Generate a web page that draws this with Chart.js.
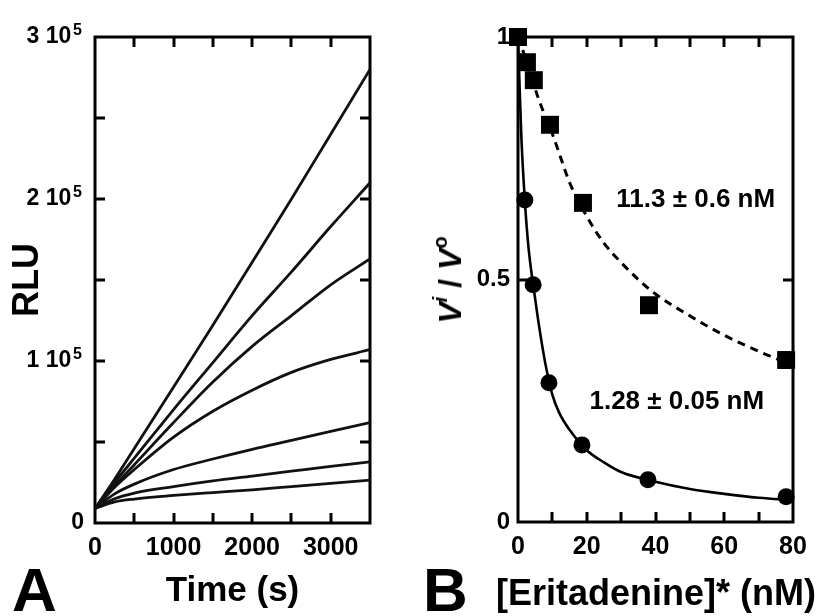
<!DOCTYPE html>
<html><head><meta charset="utf-8">
<script src="https://cdn.jsdelivr.net/npm/chart.js@4/dist/chart.umd.min.js"></script>
<style>
html,body{margin:0;padding:0;background:#fff;}
#wrap{position:relative;width:820px;height:616px;overflow:hidden;font-family:"Liberation Sans",Arial,sans-serif;font-weight:bold;color:#000;}
canvas{position:absolute;top:0;}
#ca{left:0;}
#cb{left:410px;}
.panel{position:absolute;font-size:62px;line-height:62px;top:559px;}
#xtB{position:absolute;left:656px;top:575px;transform:translateX(-50%);font-size:36px;line-height:36px;white-space:nowrap;}
#ytB{position:absolute;left:450px;top:280px;transform:translate(-50%,-50%) rotate(-90deg);font-size:32px;white-space:nowrap;line-height:1;}
#ytB i{font-style:italic;}
#ytB sup{font-size:20px;vertical-align:0;position:relative;top:-14px;}
</style></head>
<body>
<div id="wrap">
<canvas id="ca" width="410" height="616"></canvas>
<canvas id="cb" width="410" height="616"></canvas>
<div class="panel" style="left:12px;">A</div>
<div class="panel" style="left:423px;">B</div>
<div id="xtB">[Eritadenine]* (nM)</div>
<div id="ytB"><i>V</i><sup><i>i</i></sup> / <i>V</i><sup>o</sup></div>
</div>
<script>
// ---------- Panel A data: luminescence time courses ----------
const timeS = [0, 250, 500, 1000, 1500, 2000, 2500, 3000, 3500];
const trace1 = [9000, 27000, 46000, 84000, 122000, 161000, 200000, 240000, 280000];
const trace2 = [9000, 25000, 40000, 70000, 99000, 128000, 155000, 183000, 210000];
const trace3 = [9000, 23000, 36000, 62000, 87000, 109000, 128000, 147000, 163000];
const trace4 = [9000, 22000, 33000, 53000, 69000, 82000, 93000, 101000, 107000];
const trace5 = [9000, 18000, 24000, 33000, 39500, 45500, 51000, 56500, 62000];
const trace6 = [9000, 15000, 18500, 22500, 26000, 29000, 32000, 35000, 37700];
const trace7 = [9000, 13000, 14800, 17000, 18800, 20500, 22500, 24500, 26500];
const aXTickValues = [0, 1000, 2000, 3000];
const aXTickLabels = ['0', '1000', '2000', '3000'];
const aYTickValues = [0, 100000, 200000, 300000];
const aYTickLabels = ['0', '1 10', '2 10', '3 10'];
const aYTickExponents = ['', '5', '5', '5'];

// ---------- Panel B data: relative velocity vs eritadenine ----------
const squareConc = [0, 2.6, 4.6, 9.3, 18.9, 38.1, 78];
const squareVal  = [1.0, 0.948, 0.911, 0.819, 0.658, 0.447, 0.334];
const circleConc = [0, 2.0, 4.4, 9.0, 18.6, 37.8, 78];
const circleVal  = [1.0, 0.664, 0.489, 0.287, 0.159, 0.087, 0.052];
const fitSolidX = [0, 0.5, 1, 1.5, 2, 3, 4, 5, 6, 8, 10, 12, 15, 20, 25, 30, 40, 50, 60, 70, 80];
const fitSolidY = [1.0, 0.89, 0.79, 0.72, 0.66, 0.57, 0.51, 0.46, 0.41, 0.325, 0.262, 0.225, 0.19, 0.148, 0.123, 0.103, 0.083, 0.068, 0.058, 0.05, 0.045];
const fitDashX = [0, 2, 4, 6, 8, 10, 12, 15, 20, 25, 30, 35, 40, 50, 60, 70, 80];
const fitDashY = [1.0, 0.96, 0.915, 0.872, 0.835, 0.80, 0.76, 0.70, 0.63, 0.575, 0.535, 0.50, 0.47, 0.425, 0.385, 0.352, 0.323];
const bXTickValues = [0, 20, 40, 60, 80];
const bXTickLabels = ['0', '20', '40', '60', '80'];
const bYTickValues = [0, 0.5, 1];
const bYTickLabels = ['0', '0.5', '1'];
const annotTexts = ['11.3 \u00b1 0.6 nM', '1.28 \u00b1 0.05 nM'];
const annotX = [51.7, 46.2];
const annotY = [0.664, 0.247];

const FONT = '"Liberation Sans", Arial, sans-serif';
const zip = (xs, ys) => xs.map((v, i) => ({x: v, y: ys[i]}));
const findIdx = (vals, v) => vals.findIndex(t => Math.abs(t - v) < 1e-9);
const lookup = (vals, labels) => v => { const i = findIdx(vals, v); return i >= 0 ? labels[i] : ''; };

const framePlugin = {
  id: 'frame',
  beforeDatasetsDraw(chart) {
    const {ctx, chartArea: a, scales: {x, y}} = chart;
    ctx.save();
    ctx.strokeStyle = '#000';
    ctx.lineWidth = 3;
    ctx.strokeRect(a.left, a.top, a.right - a.left, a.bottom - a.top);
    const L = 10;
    ctx.beginPath();
    x.ticks.forEach(t => {
      if (t.value <= x.min || t.value >= x.max) return;
      const p = Math.round(x.getPixelForValue(t.value));
      ctx.moveTo(p, a.bottom); ctx.lineTo(p, a.bottom - L);
      ctx.moveTo(p, a.top); ctx.lineTo(p, a.top + L);
    });
    y.ticks.forEach(t => {
      if (t.value <= y.min || t.value >= y.max) return;
      const p = Math.round(y.getPixelForValue(t.value));
      ctx.moveTo(a.left, p); ctx.lineTo(a.left + L, p);
      ctx.moveTo(a.right, p); ctx.lineTo(a.right - L, p);
    });
    ctx.stroke();
    ctx.restore();
  }
};

// superscript exponents for the "n 10^5" tick labels of panel A
const expPlugin = {
  id: 'exps',
  afterDraw(chart) {
    if (chart.canvas.id !== 'ca') return;
    const {ctx, scales: {y}} = chart;
    ctx.save();
    ctx.fillStyle = '#000';
    ctx.font = 'bold 16px ' + FONT;
    ctx.textAlign = 'left';
    ctx.textBaseline = 'alphabetic';
    y.ticks.forEach(t => {
      const i = findIdx(aYTickValues, t.value);
      if (i < 0 || !aYTickExponents[i]) return;
      ctx.fillText(aYTickExponents[i], y.right - 22, y.getPixelForValue(t.value) - 2);
    });
    ctx.restore();
  }
};

const annotPlugin = {
  id: 'annot',
  afterDatasetsDraw(chart) {
    if (chart.canvas.id !== 'cb') return;
    const {ctx, scales: {x, y}} = chart;
    ctx.save();
    ctx.fillStyle = '#000';
    ctx.font = 'bold 26px ' + FONT;
    ctx.textAlign = 'center';
    ctx.textBaseline = 'middle';
    annotTexts.forEach((t, i) => ctx.fillText(t, x.getPixelForValue(annotX[i]), y.getPixelForValue(annotY[i])));
    ctx.restore();
  }
};

const baseOpts = {
  responsive: false, animation: false, devicePixelRatio: 1,
  plugins: {legend: {display: false}, tooltip: {enabled: false}},
};

const traces = [trace1, trace2, trace3, trace4, trace5, trace6, trace7];
new Chart(document.getElementById('ca'), {
  type: 'scatter',
  data: {datasets: traces.map(tr => ({
    data: zip(timeS, tr), showLine: true, pointRadius: 0,
    borderColor: '#111', borderWidth: 2.8, cubicInterpolationMode: 'monotone'
  }))},
  options: Object.assign({}, baseOpts, {
    layout: {padding: {top: 37, right: 40, left: 0, bottom: 0}},
    scales: {
      x: {
        type: 'linear', min: 0, max: 3500,
        afterFit: s => { s.height = 93; },
        grid: {display: false, drawTicks: false}, border: {display: false},
        ticks: {stepSize: 500, autoSkip: false, maxRotation: 0, padding: 10, color: '#000',
          font: {family: FONT, size: 25, weight: 'bold'}, callback: lookup(aXTickValues, aXTickLabels)},
        title: {display: true, text: 'Time (s)', color: '#000', font: {family: FONT, size: 35, weight: 'bold'}, padding: {top: 0, bottom: 4}}
      },
      y: {
        type: 'linear', min: 0, max: 300000,
        afterFit: s => { s.width = 95; },
        grid: {display: false, drawTicks: false}, border: {display: false},
        ticks: {stepSize: 50000, autoSkip: false, padding: 11, color: '#000',
          font: {family: FONT, size: 23, weight: 'bold'},
          callback: v => { const i = findIdx(aYTickValues, v); if (i < 0) return ''; return aYTickExponents[i] ? aYTickLabels[i] + '  ' : aYTickLabels[i]; }},
        title: {display: true, text: 'RLU', color: '#000', font: {family: FONT, size: 36, weight: 'bold'}, padding: {top: 6, bottom: 0}}
      }
    }
  }),
  plugins: [framePlugin, expPlugin]
});

new Chart(document.getElementById('cb'), {
  type: 'scatter',
  data: {datasets: [
    {data: zip(fitDashX, fitDashY), showLine: true, pointRadius: 0, borderColor: '#000', borderWidth: 3,
     borderDash: [8, 6], cubicInterpolationMode: 'monotone'},
    {data: zip(fitSolidX, fitSolidY), showLine: true, pointRadius: 0, borderColor: '#000', borderWidth: 2.6,
     cubicInterpolationMode: 'monotone'},
    {data: zip(circleConc, circleVal), pointStyle: 'circle', pointRadius: 8.5, backgroundColor: '#000', borderWidth: 0, clip: false},
    {data: zip(squareConc, squareVal), pointStyle: 'rect', pointRadius: 12.7, backgroundColor: '#000', borderWidth: 0, clip: false}
  ]},
  options: Object.assign({}, baseOpts, {
    layout: {padding: {top: 37, right: 27, left: 0, bottom: 0}},
    scales: {
      x: {
        type: 'linear', min: 0, max: 80,
        afterFit: s => { s.height = 94; },
        grid: {display: false, drawTicks: false}, border: {display: false},
        ticks: {stepSize: 10, autoSkip: false, maxRotation: 0, padding: 10, color: '#000',
          font: {family: FONT, size: 25, weight: 'bold'}, callback: lookup(bXTickValues, bXTickLabels)}
      },
      y: {
        type: 'linear', min: 0, max: 1,
        afterFit: s => { s.width = 108; },
        grid: {display: false, drawTicks: false}, border: {display: false},
        ticks: {stepSize: 0.5, autoSkip: false, padding: 8, color: '#000',
          font: {family: FONT, size: 24, weight: 'bold'}, callback: lookup(bYTickValues, bYTickLabels)}
      }
    }
  }),
  plugins: [framePlugin, annotPlugin]
});
</script>
</body></html>
